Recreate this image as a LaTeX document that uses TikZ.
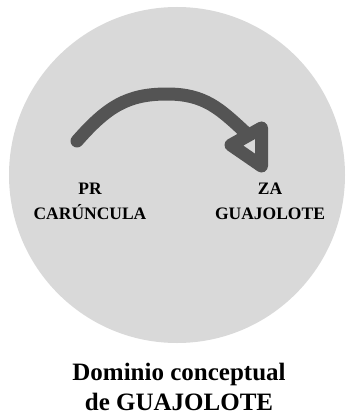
\documentclass[tikz,border=0pt]{standalone}
\usepackage{fontspec}
\setmainfont{Liberation Serif}
\definecolor{domgray}{HTML}{D9D9D9}
\definecolor{arcgray}{HTML}{545454}
\begin{document}
\begin{tikzpicture}[x=1pt, y=-1pt,
		domtext/.style={font=\bfseries\fontsize{17.5}{25}\selectfont, align=center, inner sep=0pt, anchor=north},
		captext/.style={font=\bfseries\fontsize{25}{30}\selectfont, align=center, inner sep=0pt, anchor=north},
		bendline/.style={draw=arcgray, line width=13pt, line cap=round, line join=round}]
		\useasboundingbox (0,0) rectangle (346,420);
		\def\r{168pt};
		\coordinate (C) at (177,175);
		\fill[domgray] (C) circle [radius=\r];
		% labels
		\node[domtext] (PR) at (90,183) {PR\\CARÚNCULA};
		\node[domtext] (ZA) at (270,183) {ZA\\GUAJOLOTE};
		\node[captext] (DOM) at (179,363) {Dominio conceptual\\de GUAJOLOTE};
		% arc and open head
		\coordinate (S) at (77,141);
		\coordinate (P) at (167,94);
		\coordinate (E) at (246,133);
		\coordinate (L) at (231,145);
		\coordinate (T) at (261.5,128);
		\coordinate (B) at (261.5,166);
		\draw[bendline] (S) .. controls (107,107) and (127,94) .. (P) .. controls (205,94) and (220,109) .. (E);
		\draw[bendline] (L) -- (T) -- (B) -- cycle;
		\end{tikzpicture}
\end{document}
